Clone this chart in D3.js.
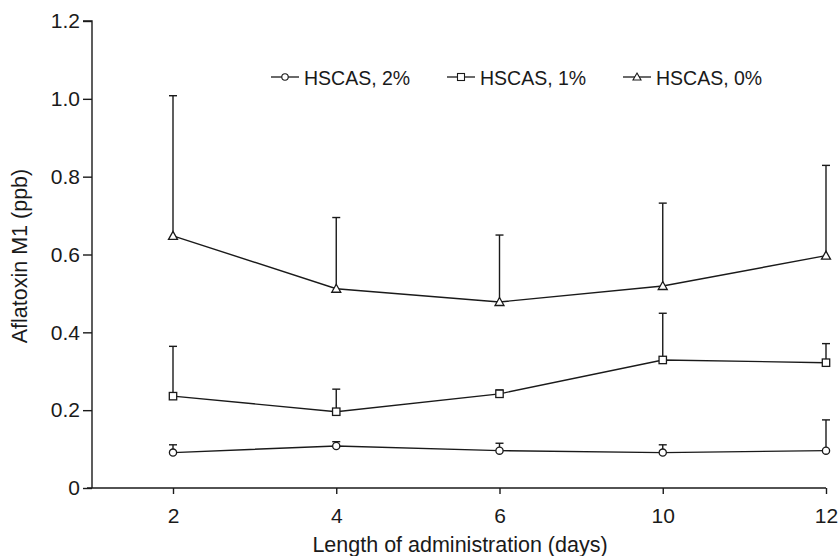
<!DOCTYPE html>
<html><head><meta charset="utf-8">
<script src="https://cdn.jsdelivr.net/npm/d3@7"></script>
<style>body{margin:0;background:#fff}svg{display:block}text{font-family:"Liberation Sans",Arial,sans-serif;fill:#1a1a1a}</style>
</head><body><svg id="c" width="839" height="556"></svg>
<script>
const days = ["2","4","6","10","12"];
const yTicks = [0,0.2,0.4,0.6,0.8,1.0,1.2];
const seriesNames = ["HSCAS, 2%","HSCAS, 1%","HSCAS, 0%"];
const hscas2 = [0.091,0.108,0.096,0.091,0.096];
const hscas2Err = [0.111,0.119,0.115,0.111,0.175];
const hscas1 = [0.236,0.196,0.242,0.329,0.322];
const hscas1Err = [0.364,0.254,0.252,0.449,0.371];
const hscas0 = [0.648,0.512,0.478,0.519,0.597];
const hscas0Err = [1.008,0.695,0.650,0.732,0.829];

const svg = d3.select("#c");
const col = "#1a1a1a";
const x0 = 92, x1 = 826, yTop = 21, yBot = 488;
const x = d3.scalePoint().domain(days).range([173,826]);
const y = d3.scaleLinear().domain([0,1.2]).range([yBot,yTop]);
const FS = 21;

// y axis
const ya = svg.append("g").attr("transform",`translate(${x0},0)`)
  .call(d3.axisLeft(y).tickValues(yTicks).tickSize(9).tickPadding(3)
    .tickFormat(d=> d===0?"0":d3.format(".1f")(d)));
ya.select(".domain").attr("d",`M-9,${yTop}H0V${yBot}`);
ya.selectAll("line,path").attr("stroke",col).attr("stroke-width",1.4);
ya.selectAll("text").attr("font-size",FS).attr("fill",col).attr("font-family","Liberation Sans, Arial, sans-serif");

// x axis
const xa = svg.append("g").attr("transform",`translate(0,${yBot})`)
  .call(d3.axisBottom(x).tickSize(6).tickPadding(14));
xa.select(".domain").attr("d",`M${x0-5},0H${x1}`);
xa.selectAll("line,path").attr("stroke",col).attr("stroke-width",1.4);
xa.selectAll("text").attr("font-size",FS).attr("fill",col).attr("font-family","Liberation Sans, Arial, sans-serif");

svg.append("text").attr("x",460).attr("y",552).attr("text-anchor","middle")
  .attr("font-size",21.5).text("Length of administration (days)");
svg.append("text").attr("transform","translate(27,256) rotate(-90)").attr("text-anchor","middle")
  .attr("font-size",21.5).text("Aflatoxin M1 (ppb)");

const series = [
  {vals:hscas2, err:hscas2Err, shape:"circle"},
  {vals:hscas1, err:hscas1Err, shape:"square"},
  {vals:hscas0, err:hscas0Err, shape:"triangle"}
];
function marker(g, shape, cx, cy){
  if(shape==="circle") g.append("circle").attr("cx",cx).attr("cy",cy).attr("r",3.6);
  else if(shape==="square") g.append("rect").attr("x",cx-3.7).attr("y",cy-3.7).attr("width",7.4).attr("height",7.4);
  else g.append("path").attr("d",`M${cx},${cy-4.5}L${cx+4.5},${cy+3.5}L${cx-4.5},${cy+3.5}Z`);
}
const line = d3.line().x((d,i)=>x(days[i])).y(d=>y(d));
series.forEach(s=>{
  const g = svg.append("g").attr("stroke",col).attr("stroke-width",1.4).attr("fill","none");
  s.vals.forEach((v,i)=>{
    g.append("line").attr("x1",x(days[i])).attr("x2",x(days[i])).attr("y1",y(v)).attr("y2",y(s.err[i]));
    g.append("line").attr("x1",x(days[i])-4).attr("x2",x(days[i])+4).attr("y1",y(s.err[i])).attr("y2",y(s.err[i]));
  });
  g.append("path").attr("d",line(s.vals));
  const m = svg.append("g").attr("stroke",col).attr("stroke-width",1.3).attr("fill","#fff");
  s.vals.forEach((v,i)=>marker(m,s.shape,x(days[i]),y(v)));
});

// legend
const legX = [271,447,623];
series.forEach((s,i)=>{
  const g = svg.append("g").attr("transform",`translate(${legX[i]},77)`);
  g.append("line").attr("x1",0).attr("x2",28).attr("y1",0).attr("y2",0).attr("stroke",col).attr("stroke-width",1.3);
  const m = g.append("g").attr("stroke",col).attr("stroke-width",1.1).attr("fill","#fff");
  if(s.shape==="circle") m.append("circle").attr("cx",14).attr("cy",0).attr("r",3.2);
  else if(s.shape==="square") m.append("rect").attr("x",10.5).attr("y",-3.5).attr("width",7).attr("height",7);
  else m.append("path").attr("d","M14,-4L18,3L10,3Z");
  g.append("text").attr("x",33).attr("y",8).attr("font-size",19.5).text(seriesNames[i]);
});
</script></body></html>
